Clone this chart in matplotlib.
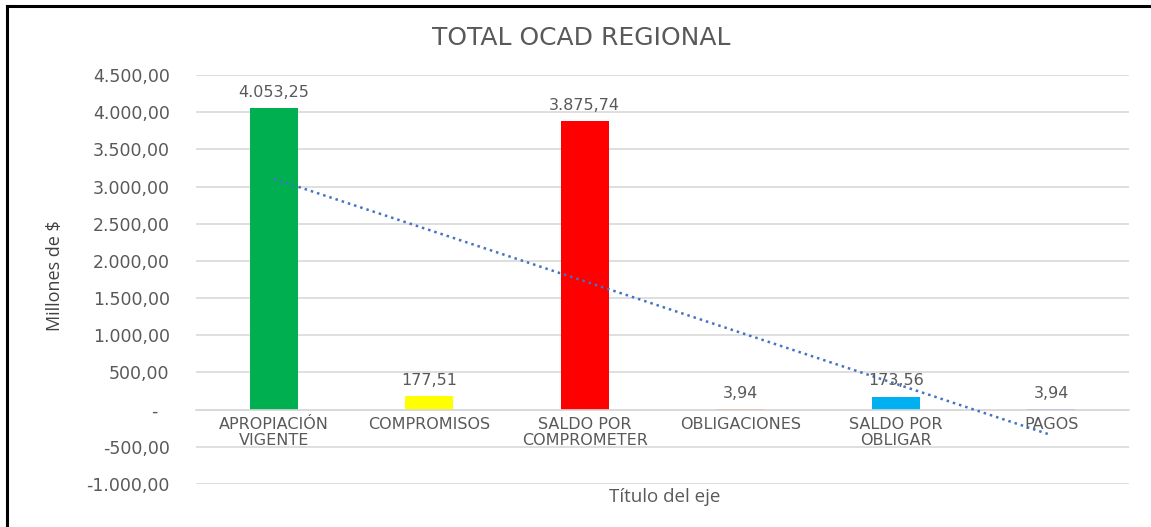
import numpy as np
import matplotlib.pyplot as plt
from matplotlib.lines import Line2D
from matplotlib.ticker import FuncFormatter, MultipleLocator

categories = ['APROPIACIÓN\nVIGENTE', 'COMPROMISOS', 'SALDO POR\nCOMPROMETER',
              'OBLIGACIONES', 'SALDO POR\nOBLIGAR', 'PAGOS']
values = [4053.25, 177.51, 3875.74, 3.94, 173.56, 3.94]
bar_colors = ['#00B050', '#FFFF00', '#FF0000', '#ED7D31', '#00B0F0', '#4472C4']

text_gray = '#595959'
grid_gray = '#D9D9D9'


def fmt_es(v, pos=None):
    if abs(v) < 1e-9:
        return '-  '
    s = f'{v:,.2f}'
    return s.replace(',', 'X').replace('.', ',').replace('X', '.')


fig = plt.figure(figsize=(11.51, 5.27), dpi=100)
ax = fig.add_axes([0.1703, 0.0816, 0.8106, 0.7761])

x = np.arange(1, len(values) + 1)
ax.bar(x, values, width=0.31, color=bar_colors, zorder=2)

# value labels above each bar
for xi, v in zip(x, values):
    ax.annotate(fmt_es(v), (xi, v), xytext=(0, 11.5), textcoords='offset points',
                ha='center', va='center', fontsize=11.5, color=text_gray,
                family='DejaVu Sans', zorder=4)

# linear trend line across the categories
coef = np.polyfit(x, values, 1)
ax.plot(x, np.polyval(coef, x), linestyle=(0, (1, 1.6)), color='#4472C4',
        linewidth=1.8, zorder=3)

ax.set_xlim(0.5, len(values) + 0.5)
ax.set_ylim(-1000, 4500)
ax.yaxis.set_major_locator(MultipleLocator(500))
ax.yaxis.set_major_formatter(FuncFormatter(fmt_es))
ax.grid(axis='y', color=grid_gray, linewidth=1.2, zorder=0)
ax.set_axisbelow(True)

for side in ['top', 'right', 'left']:
    ax.spines[side].set_visible(False)
ax.spines['bottom'].set_position(('data', 0))
ax.spines['bottom'].set_color(grid_gray)
ax.spines['bottom'].set_linewidth(1.2)

ax.set_xticks(x)
ax.set_xticklabels(categories, linespacing=1.08, family='DejaVu Sans')
ax.tick_params(axis='x', length=0, pad=5, labelsize=11.5, labelcolor=text_gray)
ax.tick_params(axis='y', length=0, pad=19, labelsize=12.5, labelcolor=text_gray)
for lbl in ax.get_yticklabels():
    lbl.set_family('DejaVu Sans')

fig.text(0.505, 1 - 38 / 527, 'TOTAL OCAD REGIONAL', ha='center', va='center',
         fontsize=18, color=text_gray, family='DejaVu Sans')
fig.text(55 / 1151, 1 - 276 / 527, 'Millones de $', rotation=90, ha='center',
         va='center', fontsize=13, color='#404040',
         family=['Liberation Sans Narrow', 'Open Sans', 'DejaVu Sans'])
fig.text(665 / 1151, 1 - 497 / 527, 'Título del eje', ha='center', va='center',
         fontsize=13.5, color=text_gray, family=['Open Sans', 'DejaVu Sans'])

# frame lines along the top and left edges
fig.add_artist(Line2D([7 / 1151, 1.0], [1 - 6 / 527, 1 - 6 / 527],
                      transform=fig.transFigure, color='black', linewidth=2.2))
fig.add_artist(Line2D([7 / 1151, 7 / 1151], [0.0, 1 - 6 / 527],
                      transform=fig.transFigure, color='black', linewidth=2.2))

fig.savefig('out.png', dpi=100)
